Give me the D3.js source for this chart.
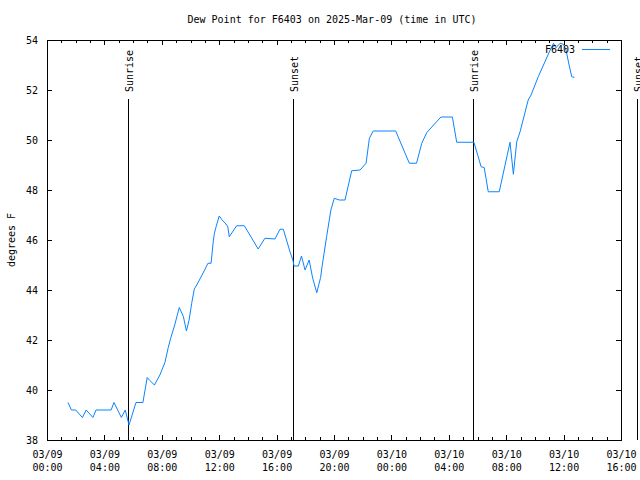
<!DOCTYPE html>
<html>
<head>
<meta charset="utf-8">
<script src="https://cdn.jsdelivr.net/npm/d3@7"></script>
<style>
  body { margin: 0; background: #fff; }
  text { font-family: "DejaVu Sans Mono", monospace; font-size: 10px; fill: #000; }
</style>
</head>
<body>
<div id="chart-area"></div>
<script>
// dew point readings (UTC)
const times = [
  "2025-03-09T01:28", "2025-03-09T01:42", "2025-03-09T02:00", "2025-03-09T02:28", "2025-03-09T02:44",
  "2025-03-09T03:12", "2025-03-09T03:25", "2025-03-09T04:28", "2025-03-09T04:40", "2025-03-09T05:11",
  "2025-03-09T05:27", "2025-03-09T05:43", "2025-03-09T06:12", "2025-03-09T06:41", "2025-03-09T06:59",
  "2025-03-09T07:08", "2025-03-09T07:29", "2025-03-09T07:52", "2025-03-09T08:13", "2025-03-09T08:27",
  "2025-03-09T08:38", "2025-03-09T08:54", "2025-03-09T09:13", "2025-03-09T09:30", "2025-03-09T09:43",
  "2025-03-09T09:54", "2025-03-09T10:05", "2025-03-09T10:16", "2025-03-09T10:26", "2025-03-09T10:44",
  "2025-03-09T11:01", "2025-03-09T11:13", "2025-03-09T11:26", "2025-03-09T11:35", "2025-03-09T11:40",
  "2025-03-09T11:47", "2025-03-09T12:00", "2025-03-09T12:10", "2025-03-09T12:28", "2025-03-09T12:36",
  "2025-03-09T12:42", "2025-03-09T13:13", "2025-03-09T13:45", "2025-03-09T14:43", "2025-03-09T15:11",
  "2025-03-09T15:53", "2025-03-09T16:14", "2025-03-09T16:28", "2025-03-09T16:56", "2025-03-09T17:08",
  "2025-03-09T17:13", "2025-03-09T17:31", "2025-03-09T17:44", "2025-03-09T17:59", "2025-03-09T18:16",
  "2025-03-09T18:31", "2025-03-09T18:48", "2025-03-09T19:04", "2025-03-09T19:10", "2025-03-09T19:29",
  "2025-03-09T19:47", "2025-03-09T20:01", "2025-03-09T20:22", "2025-03-09T20:46", "2025-03-09T21:14",
  "2025-03-09T21:49", "2025-03-09T22:14", "2025-03-09T22:28", "2025-03-09T22:44", "2025-03-10T00:18",
  "2025-03-10T01:15", "2025-03-10T01:45", "2025-03-10T02:07", "2025-03-10T02:28", "2025-03-10T03:27",
  "2025-03-10T04:15", "2025-03-10T04:33", "2025-03-10T05:45", "2025-03-10T06:03", "2025-03-10T06:15",
  "2025-03-10T06:28", "2025-03-10T06:45", "2025-03-10T07:31", "2025-03-10T08:16", "2025-03-10T08:30",
  "2025-03-10T08:44", "2025-03-10T08:58", "2025-03-10T09:32", "2025-03-10T09:44", "2025-03-10T10:14",
  "2025-03-10T10:42", "2025-03-10T11:07", "2025-03-10T11:18", "2025-03-10T11:28", "2025-03-10T11:45",
  "2025-03-10T11:59", "2025-03-10T12:10", "2025-03-10T12:23", "2025-03-10T12:34", "2025-03-10T12:45"
];
const dewpoint = [
  39.5, 39.2, 39.2, 38.9, 39.2,
  38.9, 39.2, 39.2, 39.5, 38.9,
  39.2, 38.6, 39.5, 39.5, 40.5,
  40.4, 40.2, 40.6, 41.1, 41.7,
  42.1, 42.6, 43.3, 42.95, 42.36,
  42.8, 43.47, 44.04, 44.2, 44.52,
  44.84, 45.07, 45.07, 45.93, 46.27,
  46.53, 46.96, 46.83, 46.64, 46.53,
  46.13, 46.57, 46.57, 45.64, 46.07,
  46.04, 46.43, 46.43, 45.53, 45.2,
  44.96, 44.96, 45.36, 44.8, 45.2,
  44.47, 43.89, 44.5, 44.93, 46.13,
  47.2, 47.67, 47.6, 47.6, 48.77,
  48.8, 49.07, 50.07, 50.36, 50.36,
  49.07, 49.07, 49.87, 50.3, 50.92,
  50.92, 49.91, 49.91, 49.33, 48.93,
  48.9, 47.93, 47.93, 49.91, 48.63,
  49.93, 50.33, 51.6, 51.8, 52.53,
  53.13, 53.67, 53.87, 53.69, 53.87,
  53.83, 53.6, 53.0, 52.53, 52.51
];
const eventTimes = ["2025-03-09T05:40", "2025-03-09T17:10", "2025-03-10T05:42", "2025-03-10T17:08"];
const eventNames = ["Sunrise", "Sunset", "Sunrise", "Sunset"];
const yTicks = [38, 40, 42, 44, 46, 48, 50, 52, 54];
const xDomain = ["2025-03-09T00:00", "2025-03-10T16:00"];
const seriesName = "F6403";
const title = "Dew Point for F6403 on 2025-Mar-09 (time in UTC)";

const parse = d3.utcParse("%Y-%m-%dT%H:%M");
const data = times.map((t, i) => ({ t: parse(t), v: dewpoint[i] }));

const W = 640, H = 480;
const margin = { top: 40, right: 19, bottom: 40, left: 47 };
const width = W - margin.left - margin.right,
      height = H - margin.top - margin.bottom;

const svg = d3.select("#chart-area").append("svg")
  .attr("width", W).attr("height", H);

const g = svg.append("g")
  .attr("transform", "translate(" + margin.left + "," + margin.top + ")");

const x = d3.scaleUtc().domain(xDomain.map(parse)).range([0, width]);
const y = d3.scaleLinear().domain([38, 54]).range([height, 0]);

const hourTicks = x.ticks(d3.utcHour.every(1));
const majorTicks = hourTicks.filter(d => d.getUTCHours() % 4 === 0);

function clean(sel) {
  sel.select(".domain").remove();
  sel.selectAll(".tick line").attr("stroke", "#000").attr("shape-rendering", "crispEdges");
}

// minor ticks bottom + top
g.append("g").attr("transform", "translate(0," + height + ")")
  .call(d3.axisBottom(x).tickValues(hourTicks).tickSize(-3).tickFormat(""))
  .call(clean);
g.append("g")
  .call(d3.axisTop(x).tickValues(hourTicks).tickSize(-3).tickFormat(""))
  .call(clean);

// major ticks bottom (labels in two lines) + top
const fmtDate = d3.utcFormat("%m/%d"), fmtTime = d3.utcFormat("%H:%M");
const xAxis = g.append("g").attr("transform", "translate(0," + height + ")")
  .call(d3.axisBottom(x).tickValues(majorTicks).tickSize(-5).tickFormat(""))
  .call(clean);
xAxis.selectAll(".tick").each(function(d) {
  const t = d3.select(this).append("text")
    .attr("text-anchor", "middle").attr("y", 18);
  t.append("tspan").attr("x", 0).text(fmtDate(d));
  t.append("tspan").attr("x", 0).attr("dy", 13).text(fmtTime(d));
});
g.append("g")
  .call(d3.axisTop(x).tickValues(majorTicks).tickSize(-5).tickFormat(""))
  .call(clean);

// y axis left + right
g.append("g")
  .call(d3.axisLeft(y).tickValues(yTicks).tickSize(-5).tickPadding(9))
  .call(clean);
g.append("g").attr("transform", "translate(" + width + ",0)")
  .call(d3.axisRight(y).tickValues(yTicks).tickSize(-5).tickFormat(""))
  .call(clean);
g.selectAll(".tick text").attr("fill", "#000");
g.selectAll("g").attr("font-family", null).attr("font-size", null);

// border
g.append("rect")
  .attr("x", 0.5).attr("y", 0.5)
  .attr("width", width).attr("height", height)
  .attr("fill", "none").attr("stroke", "#000")
  .attr("shape-rendering", "crispEdges");

// sunrise / sunset markers
eventTimes.forEach((t, i) => {
  const ex = Math.round(x(parse(t))) + 0.5;
  g.append("line")
    .attr("x1", ex).attr("x2", ex)
    .attr("y1", 59).attr("y2", height)
    .attr("stroke", "#000").attr("shape-rendering", "crispEdges");
  g.append("text")
    .attr("transform", "translate(" + (ex + 4.5) + ",52) rotate(-90)")
    .attr("text-anchor", "start")
    .text(eventNames[i]);
});

// series line
const line = d3.line().x(d => x(d.t)).y(d => y(d.v));
g.append("path")
  .datum(data)
  .attr("d", line)
  .attr("fill", "none")
  .attr("stroke", "#0a84ff")
  .attr("stroke-width", 1);

// legend
g.append("text")
  .attr("x", 528).attr("y", 13)
  .attr("text-anchor", "end")
  .text(seriesName);
g.append("line")
  .attr("x1", 535).attr("x2", 563)
  .attr("y1", 9.5).attr("y2", 9.5)
  .attr("stroke", "#0a84ff").attr("shape-rendering", "crispEdges");

// title
svg.append("text")
  .attr("x", 332).attr("y", 23)
  .attr("text-anchor", "middle")
  .text(title);

// y label
svg.append("text")
  .attr("transform", "translate(15," + (margin.top + height / 2) + ") rotate(-90)")
  .attr("text-anchor", "middle")
  .text("degrees F");
</script>
</body>
</html>
